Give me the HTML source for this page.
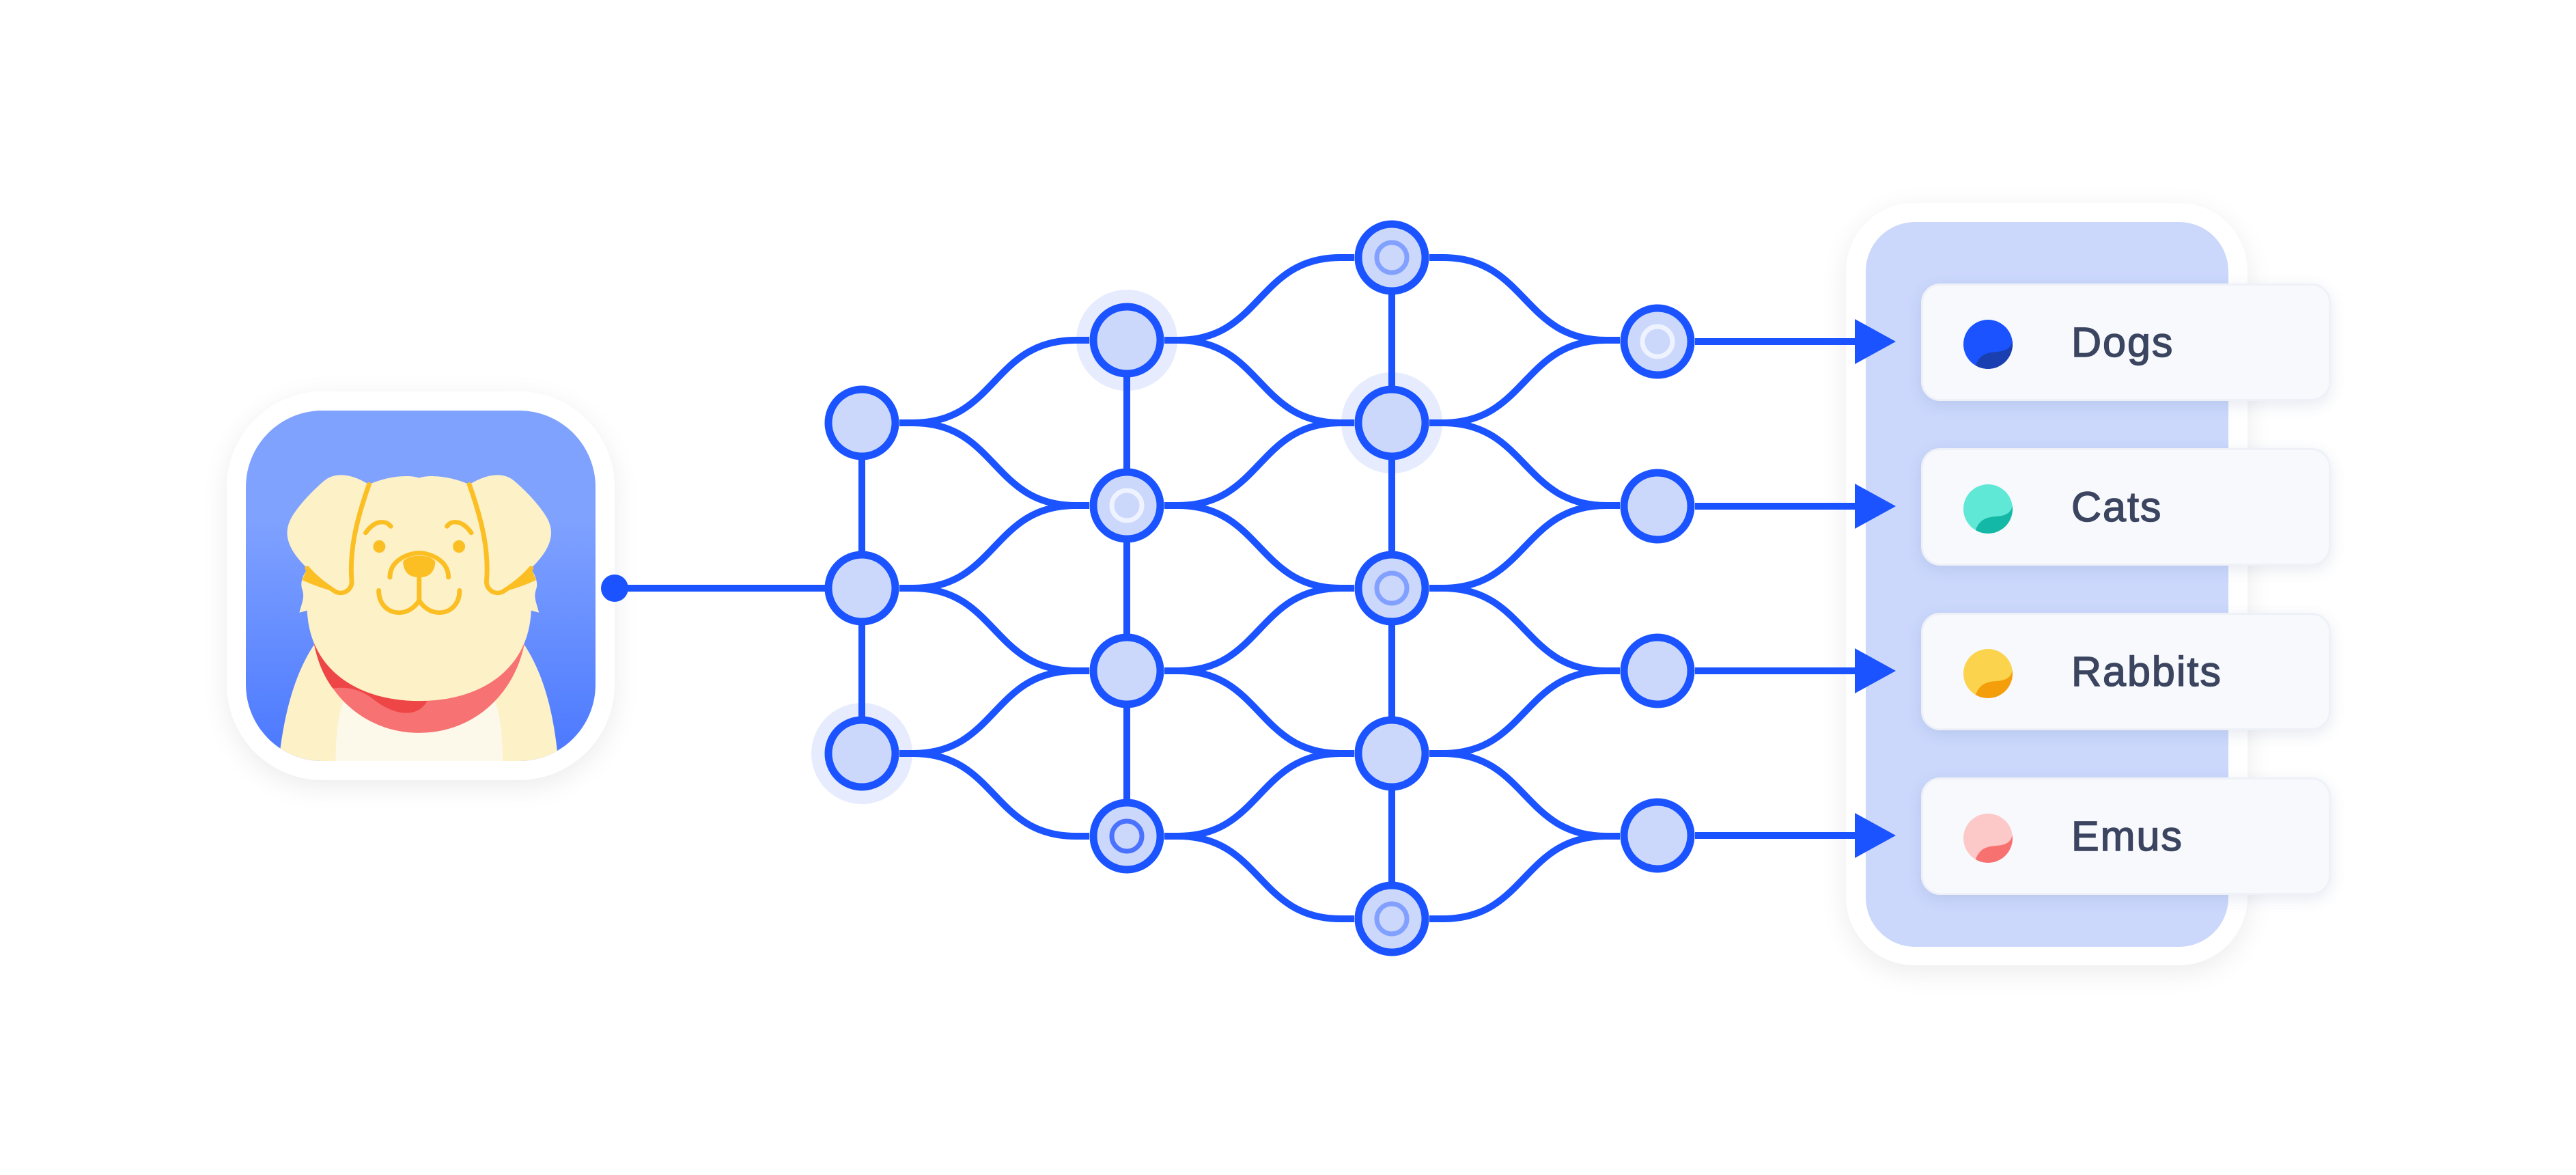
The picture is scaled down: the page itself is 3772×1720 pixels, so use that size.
<!DOCTYPE html>
<html><head><meta charset="utf-8"><style>
html,body{margin:0;padding:0;background:#fff;}
body{width:3772px;height:1720px;position:relative;overflow:hidden;font-family:"Liberation Sans",sans-serif;}
.card{position:absolute;left:2813px;width:600px;height:172px;background:#f7f9fc;border:3px solid #eef1f7;border-radius:28px;box-sizing:border-box;box-shadow:0 6px 22px rgba(60,80,140,0.12);}
.card .dot{position:absolute;left:59px;top:50px;width:72px;height:72px;border-radius:50%;overflow:hidden;}
.card .lab{position:absolute;left:217px;top:0;line-height:166px;font-size:61px;color:#3b4560;font-weight:normal;-webkit-text-stroke:1.5px #3b4560;letter-spacing:2px;}
</style></head><body>
<div style="position:absolute;left:332px;top:573px;width:568px;height:569px;background:#fff;border-radius:140px;box-shadow:0 10px 40px rgba(0,0,0,0.08);"></div>
<div style="position:absolute;left:2703px;top:297px;width:588px;height:1116px;background:#fff;border-radius:100px;box-shadow:0 10px 40px rgba(0,0,0,0.08);"></div>
<div style="position:absolute;left:2732px;top:325px;width:531px;height:1061px;background:#cbd8fc;border-radius:72px;"></div>

<svg width="3772" height="1720" style="position:absolute;left:0;top:0" xmlns="http://www.w3.org/2000/svg">
<defs>
<linearGradient id="bg" x1="0" y1="0" x2="0" y2="1">
<stop offset="0.3" stop-color="#80a2ff"/><stop offset="1" stop-color="#4a78ff"/>
</linearGradient>
<clipPath id="cp"><rect x="360" y="601" width="512" height="513" rx="112"/></clipPath>
</defs>
<rect x="360" y="601" width="512" height="513" rx="112" fill="url(#bg)"/>
<g clip-path="url(#cp)">
<g transform="translate(320,560) scale(0.408,0.3827)">
<path d="M215,1460 C240,1200 300,1050 380,950 L1060,950 C1140,1050 1200,1200 1220,1460 Z" fill="#fdf1c8"/>
<path d="M420,1460 C420,1200 470,1040 720,1035 C970,1040 1020,1200 1020,1460 Z" fill="#fdf9ea"/>
<path d="M333,900 C333,1150 500,1340 720,1340 C940,1340 1107,1150 1107,900 Z" fill="#f77272"/>
<path d="M333,900 C340,1040 370,1110 410,1170 C470,1160 520,1180 560,1215 C640,1280 720,1280 750,1215 L720,1000 Z" fill="#ee4646"/>
<path d="M320,900 C300,700 380,420 540,390 C600,360 680,350 720,365 C760,350 840,360 900,390 C1060,420 1140,700 1120,900 C1100,1100 940,1218 720,1218 C500,1218 340,1100 320,900 Z" fill="#fdf1c8"/>
<path d="M290,880 C300,840 310,820 300,790 C290,760 310,720 330,700 L360,860 Z" fill="#fdf1c8"/>
<path d="M1150,880 C1140,840 1130,820 1140,790 C1150,760 1130,720 1110,700 L1080,860 Z" fill="#fdf1c8"/>
<path d="M300,755 L318,710 C360,740 400,775 420,800 C380,790 340,775 300,755 Z" fill="#fbbf24"/>
<path d="M1140,755 L1122,710 C1080,740 1040,775 1020,800 C1060,790 1100,775 1140,755 Z" fill="#fbbf24"/>
<path d="M540,390 C480,350 420,340 380,375 C330,420 280,480 260,520 C230,580 250,640 318,710 C360,750 400,790 420,800 C450,815 480,790 478,760 C470,640 490,520 540,390 Z" fill="#fdf1c8"/>
<path d="M900,390 C960,350 1020,340 1060,375 C1110,420 1160,480 1180,520 C1210,580 1190,640 1122,710 C1080,750 1040,790 1020,800 C990,815 960,790 962,760 C970,640 950,520 900,390 Z" fill="#fdf1c8"/>
<g fill="none" stroke="#fbbf24" stroke-width="17" stroke-linecap="round">
<path d="M540,390 C490,540 470,650 478,760 C480,790 450,815 420,800 C390,780 350,750 318,710"/>
<path d="M900,390 C950,540 970,650 962,760 C960,790 990,815 1020,800 C1050,780 1090,750 1122,710"/>
<path d="M528,575 C560,525 600,525 618,550"/>
<path d="M907,575 C875,525 835,525 820,550"/>
<path d="M615,745 C615,680 680,652 720,652 C760,652 825,680 825,745"/>
<path d="M720,745 L720,830"/>
<path d="M575,795 C575,850 610,880 648,880 C690,880 720,840 720,830"/>
<path d="M865,795 C865,850 830,880 792,880 C750,880 720,840 720,830"/>
</g>
<path d="M662,685 C665,740 700,745 720,745 C740,745 775,740 778,685 C760,655 680,655 662,685 Z" fill="#fbbf24"/>
<ellipse cx="577" cy="627" rx="22" ry="24" fill="#fbbf24"/>
<ellipse cx="863" cy="627" rx="22" ry="24" fill="#fbbf24"/>
</g>
</g>

<g fill="#e6ecfd">
<circle cx="1262" cy="1103" r="74"/>
<circle cx="1650" cy="498" r="74"/>
<circle cx="2038" cy="619" r="74"/>
</g>

<circle cx="900" cy="861" r="20" fill="#1a53ff"/>
<g fill="none" stroke="#1a53ff" stroke-width="10">
<path d="M900 861 H1210"/>
<path d="M1262 619 V1103"/>
<path d="M1650 498 V1224"/>
<path d="M2038 377 V1345"/>
<path d="M1317 619 H1337 C1460 619 1452 498 1575 498 H1595"/>
<path d="M1317 619 H1337 C1460 619 1452 740 1575 740 H1595"/>
<path d="M1317 861 H1337 C1460 861 1452 740 1575 740 H1595"/>
<path d="M1317 861 H1337 C1460 861 1452 982 1575 982 H1595"/>
<path d="M1317 1103 H1337 C1460 1103 1452 982 1575 982 H1595"/>
<path d="M1317 1103 H1337 C1460 1103 1452 1224 1575 1224 H1595"/>
<path d="M1705 498 H1725 C1848 498 1840 377 1963 377 H1983"/>
<path d="M1705 498 H1725 C1848 498 1840 619 1963 619 H1983"/>
<path d="M1705 740 H1725 C1848 740 1840 619 1963 619 H1983"/>
<path d="M1705 740 H1725 C1848 740 1840 861 1963 861 H1983"/>
<path d="M1705 982 H1725 C1848 982 1840 861 1963 861 H1983"/>
<path d="M1705 982 H1725 C1848 982 1840 1103 1963 1103 H1983"/>
<path d="M1705 1224 H1725 C1848 1224 1840 1103 1963 1103 H1983"/>
<path d="M1705 1224 H1725 C1848 1224 1840 1345 1963 1345 H1983"/>
<path d="M2093 377 H2113 C2236 377 2229 498 2352 498 H2372"/>
<path d="M2093 619 H2113 C2236 619 2229 498 2352 498 H2372"/>
<path d="M2093 619 H2113 C2236 619 2229 740 2352 740 H2372"/>
<path d="M2093 861 H2113 C2236 861 2229 740 2352 740 H2372"/>
<path d="M2093 861 H2113 C2236 861 2229 982 2352 982 H2372"/>
<path d="M2093 1103 H2113 C2236 1103 2229 982 2352 982 H2372"/>
<path d="M2093 1103 H2113 C2236 1103 2229 1224 2352 1224 H2372"/>
<path d="M2093 1345 H2113 C2236 1345 2229 1224 2352 1224 H2372"/>
<path d="M2482 500 H2722"/>
<path d="M2482 741 H2722"/>
<path d="M2482 982 H2722"/>
<path d="M2482 1223 H2722"/>
</g>
<g fill="#1a53ff">
<polygon points="2716,467 2776,500 2716,533"/>
<polygon points="2716,708 2776,741 2716,774"/>
<polygon points="2716,949 2776,982 2716,1015"/>
<polygon points="2716,1190 2776,1223 2716,1256"/>
</g>

<g fill="#cbd8fc" stroke="#1a53ff" stroke-width="11">
<circle cx="1262" cy="619" r="49"/><circle cx="1262" cy="861" r="49"/><circle cx="1262" cy="1103" r="49"/>
<circle cx="1650" cy="498" r="49"/><circle cx="1650" cy="740" r="49"/><circle cx="1650" cy="982" r="49"/><circle cx="1650" cy="1224" r="49"/>
<circle cx="2038" cy="377" r="49"/><circle cx="2038" cy="619" r="49"/><circle cx="2038" cy="861" r="49"/><circle cx="2038" cy="1103" r="49"/><circle cx="2038" cy="1345" r="49"/>
<circle cx="2427" cy="500" r="49"/><circle cx="2427" cy="741" r="49"/><circle cx="2427" cy="982" r="49"/><circle cx="2427" cy="1223" r="49"/>
</g>
<g fill="none" stroke-width="7">
<circle cx="2038" cy="377" r="22" stroke="#82a0ff"/>
<circle cx="2038" cy="861" r="22" stroke="#82a0ff"/>
<circle cx="2038" cy="1345" r="22" stroke="#82a0ff"/>
<circle cx="1650" cy="740" r="22" stroke="#eef3ff"/>
<circle cx="2427" cy="500" r="22" stroke="#eef3ff"/>
<circle cx="1650" cy="1224" r="22" stroke="#4a72ff"/>
</g>
</svg>

<div class="card" style="top:415px"><div class="dot" style="background:#1a53ff"><svg width="72" height="72"><path d="M16,72 C22,52 32,48 48,47 C62,46 70,42 72,30 L72,72 Z" fill="#1a3fb0"/></svg></div><div class="lab">Dogs</div></div>
<div class="card" style="top:656px"><div class="dot" style="background:#5fe8d5"><svg width="72" height="72"><path d="M16,72 C22,52 32,48 48,47 C62,46 70,42 72,30 L72,72 Z" fill="#14b8a6"/></svg></div><div class="lab">Cats</div></div>
<div class="card" style="top:897px"><div class="dot" style="background:#fcd34d"><svg width="72" height="72"><path d="M16,72 C22,52 32,48 48,47 C62,46 70,42 72,30 L72,72 Z" fill="#f59e0b"/></svg></div><div class="lab">Rabbits</div></div>
<div class="card" style="top:1138px"><div class="dot" style="background:#fcc8c8"><svg width="72" height="72"><path d="M16,72 C22,52 32,48 48,47 C62,46 70,42 72,30 L72,72 Z" fill="#f87171"/></svg></div><div class="lab">Emus</div></div>
</body></html>
